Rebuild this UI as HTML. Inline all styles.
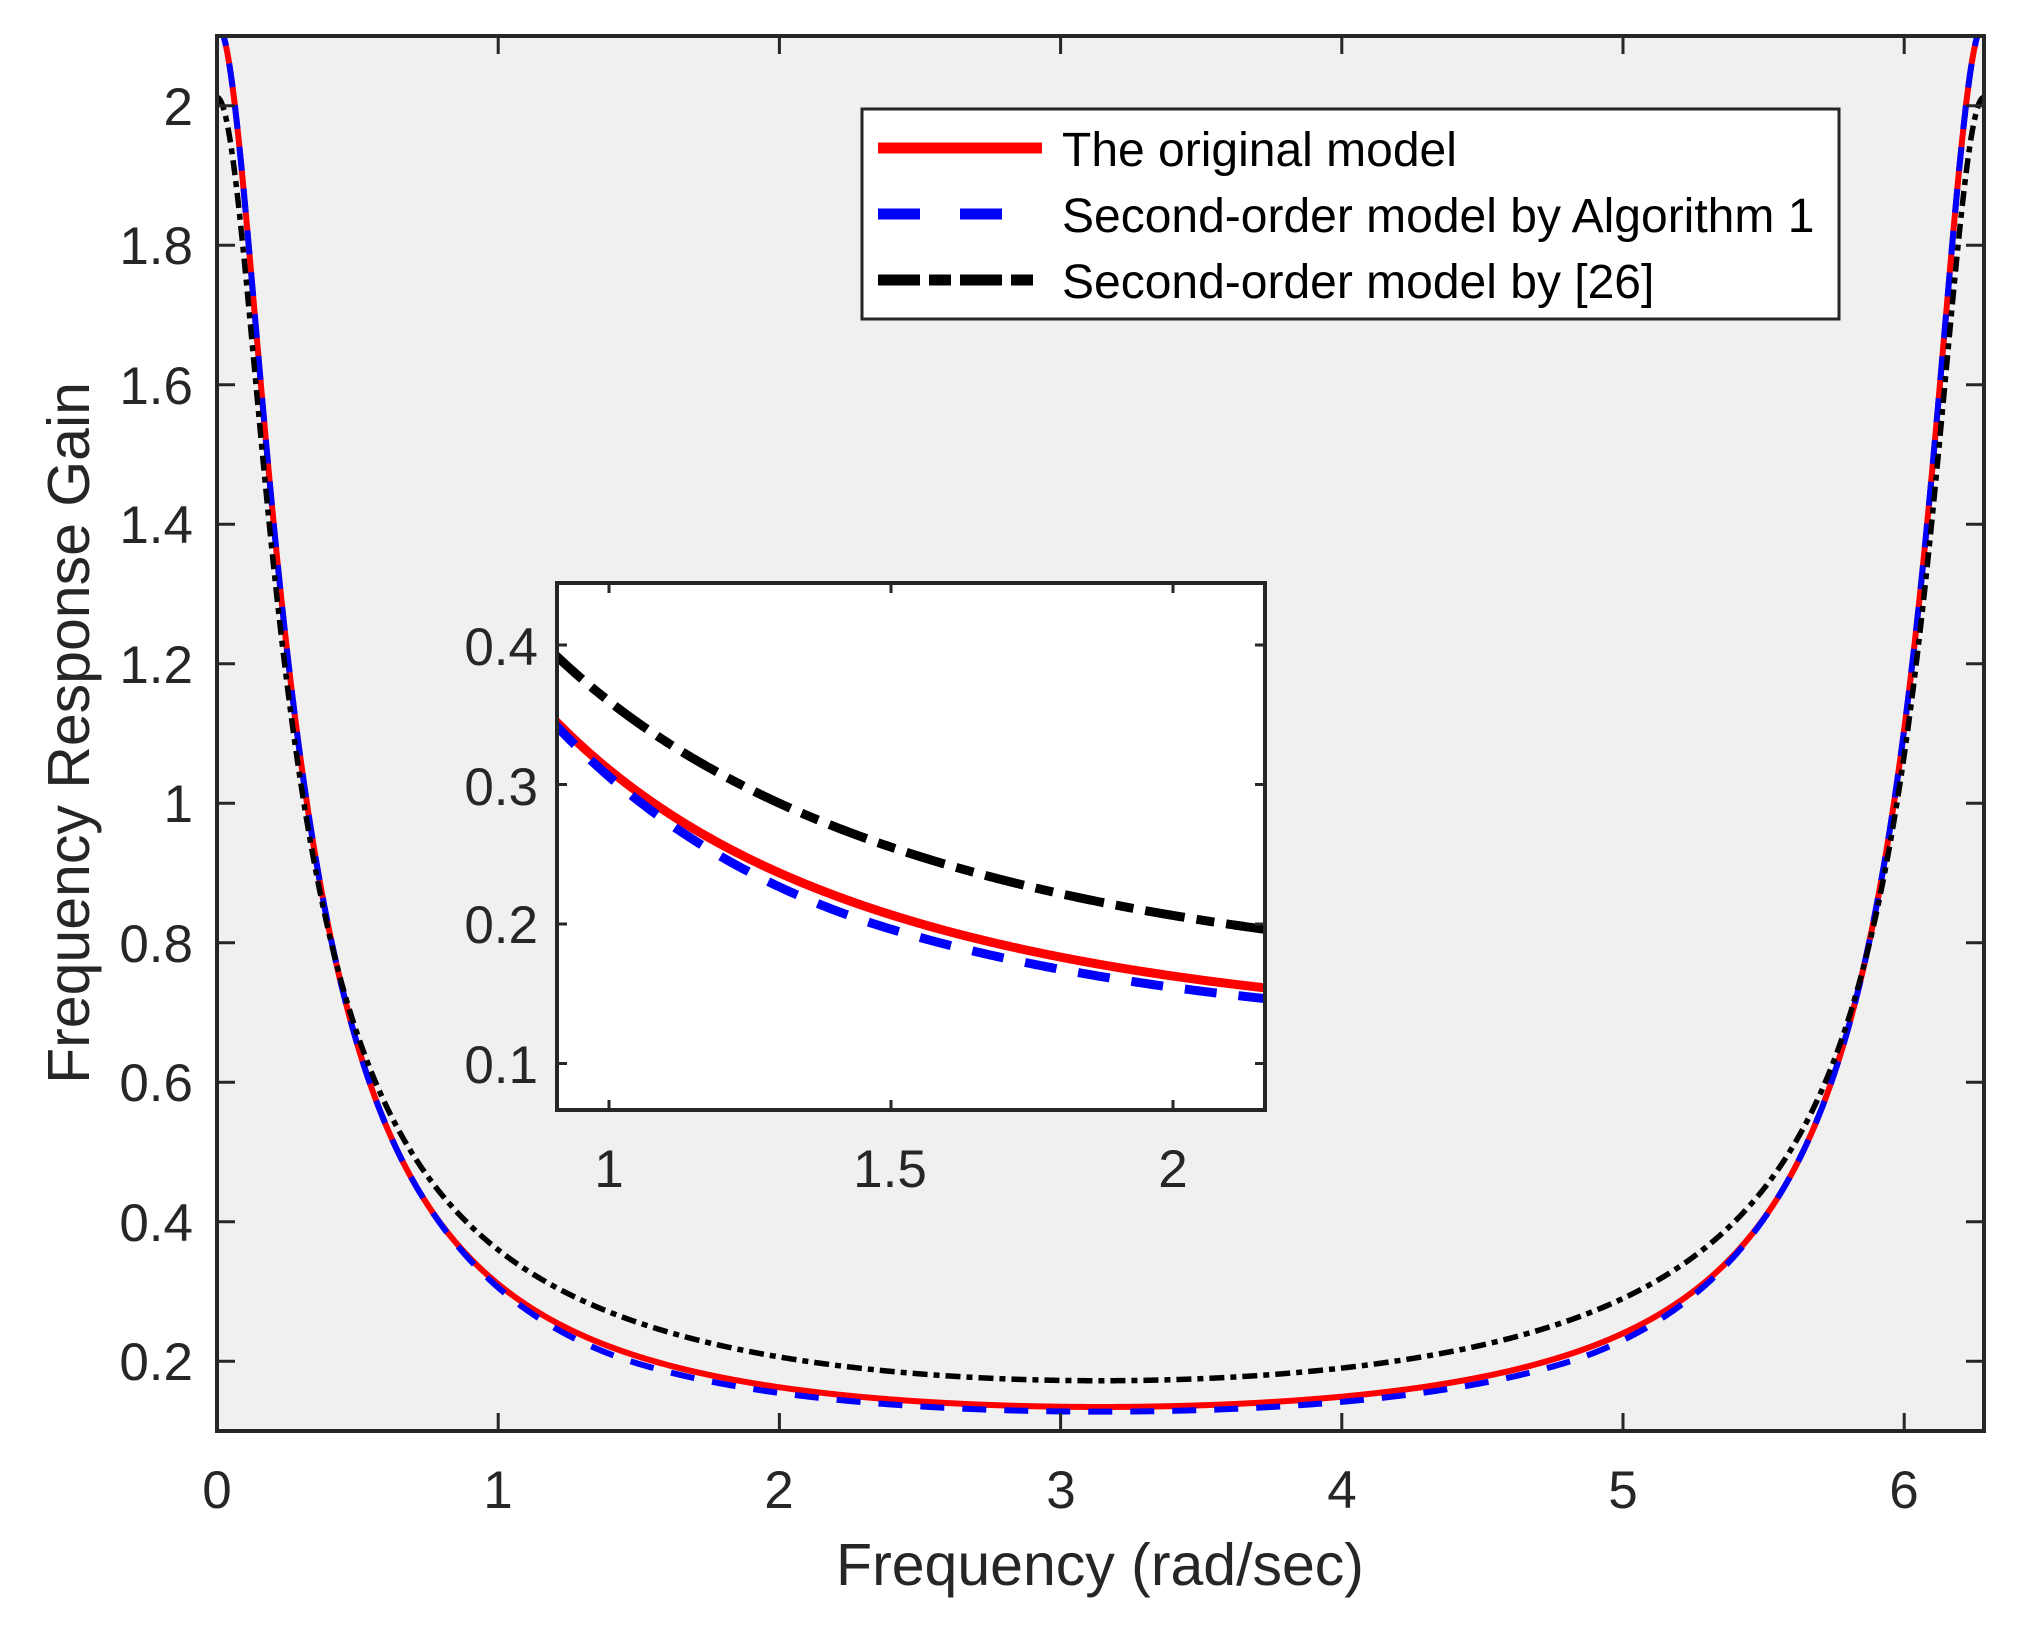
<!DOCTYPE html>
<html><head><meta charset="utf-8"><style>
html,body{margin:0;padding:0;background:#fff;}
svg{display:block;}
text{font-family:"Liberation Sans",Arial,sans-serif;}
</style></head><body>
<svg id="s" width="2036" height="1634" viewBox="0 0 2036 1634" xmlns="http://www.w3.org/2000/svg">
<defs>
<clipPath id="cm"><rect x="217" y="36" width="1767" height="1395"/></clipPath>
<clipPath id="ci"><rect x="557" y="583" width="708" height="527"/></clipPath>
</defs>
<rect x="217" y="36" width="1767" height="1395" fill="#f0f0f0"/>
<g id="mainc" clip-path="url(#cm)"></g>
<g id="mticks" stroke="#262626" stroke-width="3"></g>
<rect x="217" y="36" width="1767" height="1395" fill="none" stroke="#262626" stroke-width="4"/>
<g font-size="53" fill="#262626" text-anchor="end">
<text x="193" y="125">2</text>
<text x="193" y="264">1.8</text>
<text x="193" y="404">1.6</text>
<text x="193" y="543">1.4</text>
<text x="193" y="683">1.2</text>
<text x="193" y="822">1</text>
<text x="193" y="962">0.8</text>
<text x="193" y="1101">0.6</text>
<text x="193" y="1241">0.4</text>
<text x="193" y="1380">0.2</text>
</g>
<g font-size="53" fill="#262626" text-anchor="middle">
<text x="217" y="1508">0</text>
<text x="498" y="1508">1</text>
<text x="779" y="1508">2</text>
<text x="1061" y="1508">3</text>
<text x="1342" y="1508">4</text>
<text x="1623" y="1508">5</text>
<text x="1904" y="1508">6</text>
</g>
<text x="1100" y="1585" font-size="59" fill="#262626" text-anchor="middle">Frequency (rad/sec)</text>
<text transform="translate(89,733) rotate(-90)" font-size="59" fill="#262626" text-anchor="middle">Frequency Response Gain</text>

<rect x="862" y="109" width="977" height="210" fill="#fff" stroke="#262626" stroke-width="3"/>
<line x1="878" y1="148" x2="1042" y2="148" stroke="#f00" stroke-width="11"/>
<line x1="878" y1="214" x2="1042" y2="214" stroke="#00f" stroke-width="11" stroke-dasharray="42 40"/>
<line x1="878" y1="280" x2="1042" y2="280" stroke="#000" stroke-width="11" stroke-dasharray="42 9 22 9"/>
<g font-size="48" fill="#000">
<text x="1062" y="166">The original model</text>
<text x="1062" y="232">Second-order model by Algorithm 1</text>
<text x="1062" y="298">Second-order model by [26]</text>
</g>

<rect x="557" y="583" width="708" height="527" fill="#fff"/>
<g id="insc" clip-path="url(#ci)"></g>
<g id="iticks" stroke="#262626" stroke-width="3"></g>
<rect x="557" y="583" width="708" height="527" fill="none" stroke="#262626" stroke-width="4"/>
<g font-size="53" fill="#262626" text-anchor="end">
<text x="538" y="665">0.4</text>
<text x="538" y="805">0.3</text>
<text x="538" y="943">0.2</text>
<text x="538" y="1083">0.1</text>
</g>
<g font-size="53" fill="#262626" text-anchor="middle">
<text x="609" y="1187">1</text>
<text x="890" y="1187">1.5</text>
<text x="1173" y="1187">2</text>
</g>
</svg>
<script>
(function(){
var NS="http://www.w3.org/2000/svg";
function solve(A,b){var n=b.length;for(var i=0;i<n;i++){var p=i;for(var r=i+1;r<n;r++)if(Math.abs(A[r][i])>Math.abs(A[p][i]))p=r;
 var t=A[i];A[i]=A[p];A[p]=t;t=b[i];b[i]=b[p];b[p]=t;
 for(r=i+1;r<n;r++){var f=A[r][i]/A[i][i];for(var c=i;c<n;c++)A[r][c]-=f*A[i][c];b[r]-=f*b[i];}}
 var x=[];for(i=n-1;i>=0;i--){var s=b[i];for(var c2=i+1;c2<n;c2++)s-=A[i][c2]*x[c2];x[i]=s/A[i][i];}return x;}
function fit(pts,eps,deg){
  function X(w){var s=Math.sin(w/2);return Math.log(s*s+eps);}
  var n=deg+1,A=[],b=[];for(var i=0;i<n;i++){A.push(new Array(n).fill(0));b.push(0);}
  pts.forEach(function(p){var x=X(p[0]),y=Math.log(p[1]),wt=p[2]||1;var pw=[];for(var k=0;k<n;k++)pw.push(Math.pow(x,k));
    for(var r=0;r<n;r++){b[r]+=wt*pw[r]*y;for(var c=0;c<n;c++)A[r][c]+=wt*pw[r]*pw[c];}});
  var co=solve(A,b);
  return function(w){var x=X(w),s=0;for(var k=0;k<n;k++)s+=co[k]*Math.pow(x,k);return Math.exp(s);};
}
var red=fit([[0,2.16,3],[0.046,1.98],[0.117,1.72],[0.2,1.40],[0.284,1.11],[0.355,0.906],[0.473,0.70],[0.651,0.509],[0.908,0.342,2],[1.2,0.257],[1.5,0.202,2],[2,0.166],[2.163,0.1556,2],[2.5,0.143],[Math.PI,0.134,3]],0.008,3);
var blk=fit([[0,2.02,3],[0.057,1.917],[0.117,1.686],[0.188,1.39],[0.26,1.135],[0.342,0.906],[0.437,0.752],[0.604,0.573],[0.908,0.396,2],[1.2,0.308],[1.5,0.252,2],[2,0.202],[2.163,0.195,2],[2.5,0.185],[Math.PI,0.173,3]],0.012,3);
function bf(w){ if(w>Math.PI)w=2*Math.PI-w; var t=(w-0.7)/0.8; t=Math.max(0,Math.min(1,t)); t=t*t*(3-2*t); return 1-0.05*t; }
var blu=function(w){return red(w)*bf(w);};
function path(f,X,Y,w0,w1,N){
  var s="";
  for(var i=0;i<=N;i++){var w=w0+(w1-w0)*i/N; s+=(i?"L":"M")+X(w).toFixed(2)+" "+Y(f(w)).toFixed(2);}
  return s;
}
function add(g,d,col,sw,dash){
  var p=document.createElementNS(NS,"path");
  p.setAttribute("d",d);p.setAttribute("fill","none");p.setAttribute("stroke",col);
  p.setAttribute("stroke-width",sw);p.setAttribute("stroke-linejoin","round");
  if(dash)p.setAttribute("stroke-dasharray",dash);
  g.appendChild(p);
}
var MX=function(w){return 217+w*281.2;}, MY=function(v){return 1431-(v-0.1)*697.5;};
var gm=document.getElementById("mainc");
add(gm,path(red,MX,MY,0,2*Math.PI,2000),"#f00",6);
add(gm,path(blu,MX,MY,0,2*Math.PI,2000),"#00f",6,"24 18");
add(gm,path(blk,MX,MY,0,2*Math.PI,2000),"#000",5.5,"15 6 6 6");
var IX=function(w){return 609+(w-1)*564;}, IY=function(v){return 924-(v-0.2)*1395;};
var gi=document.getElementById("insc");
add(gi,path(red,IX,IY,0.9,2.17,400),"#f00",9);
add(gi,path(blu,IX,IY,0.9,2.17,400),"#00f",9,"32 22");
add(gi,path(blk,IX,IY,0.9,2.17,400),"#000",9,"40 12 18 12");
function ln(g,x1,y1,x2,y2){var l=document.createElementNS(NS,"line");l.setAttribute("x1",x1);l.setAttribute("y1",y1);l.setAttribute("x2",x2);l.setAttribute("y2",y2);g.appendChild(l);}
var mt=document.getElementById("mticks");
for(var k=0;k<=6;k++){var x=MX(k);ln(mt,x,1431,x,1413);ln(mt,x,36,x,54);}
for(k=1;k<=10;k++){var y=MY(k*0.2);ln(mt,217,y,235,y);ln(mt,1984,y,1966,y);}
var it=document.getElementById("iticks");
[1,1.5,2].forEach(function(w){var x=IX(w);ln(it,x,1110,x,1100);ln(it,x,583,x,593);});
[0.1,0.2,0.3,0.4].forEach(function(v){var y=IY(v);ln(it,557,y,567,y);ln(it,1265,y,1255,y);});
})();
</script>
</body></html>
